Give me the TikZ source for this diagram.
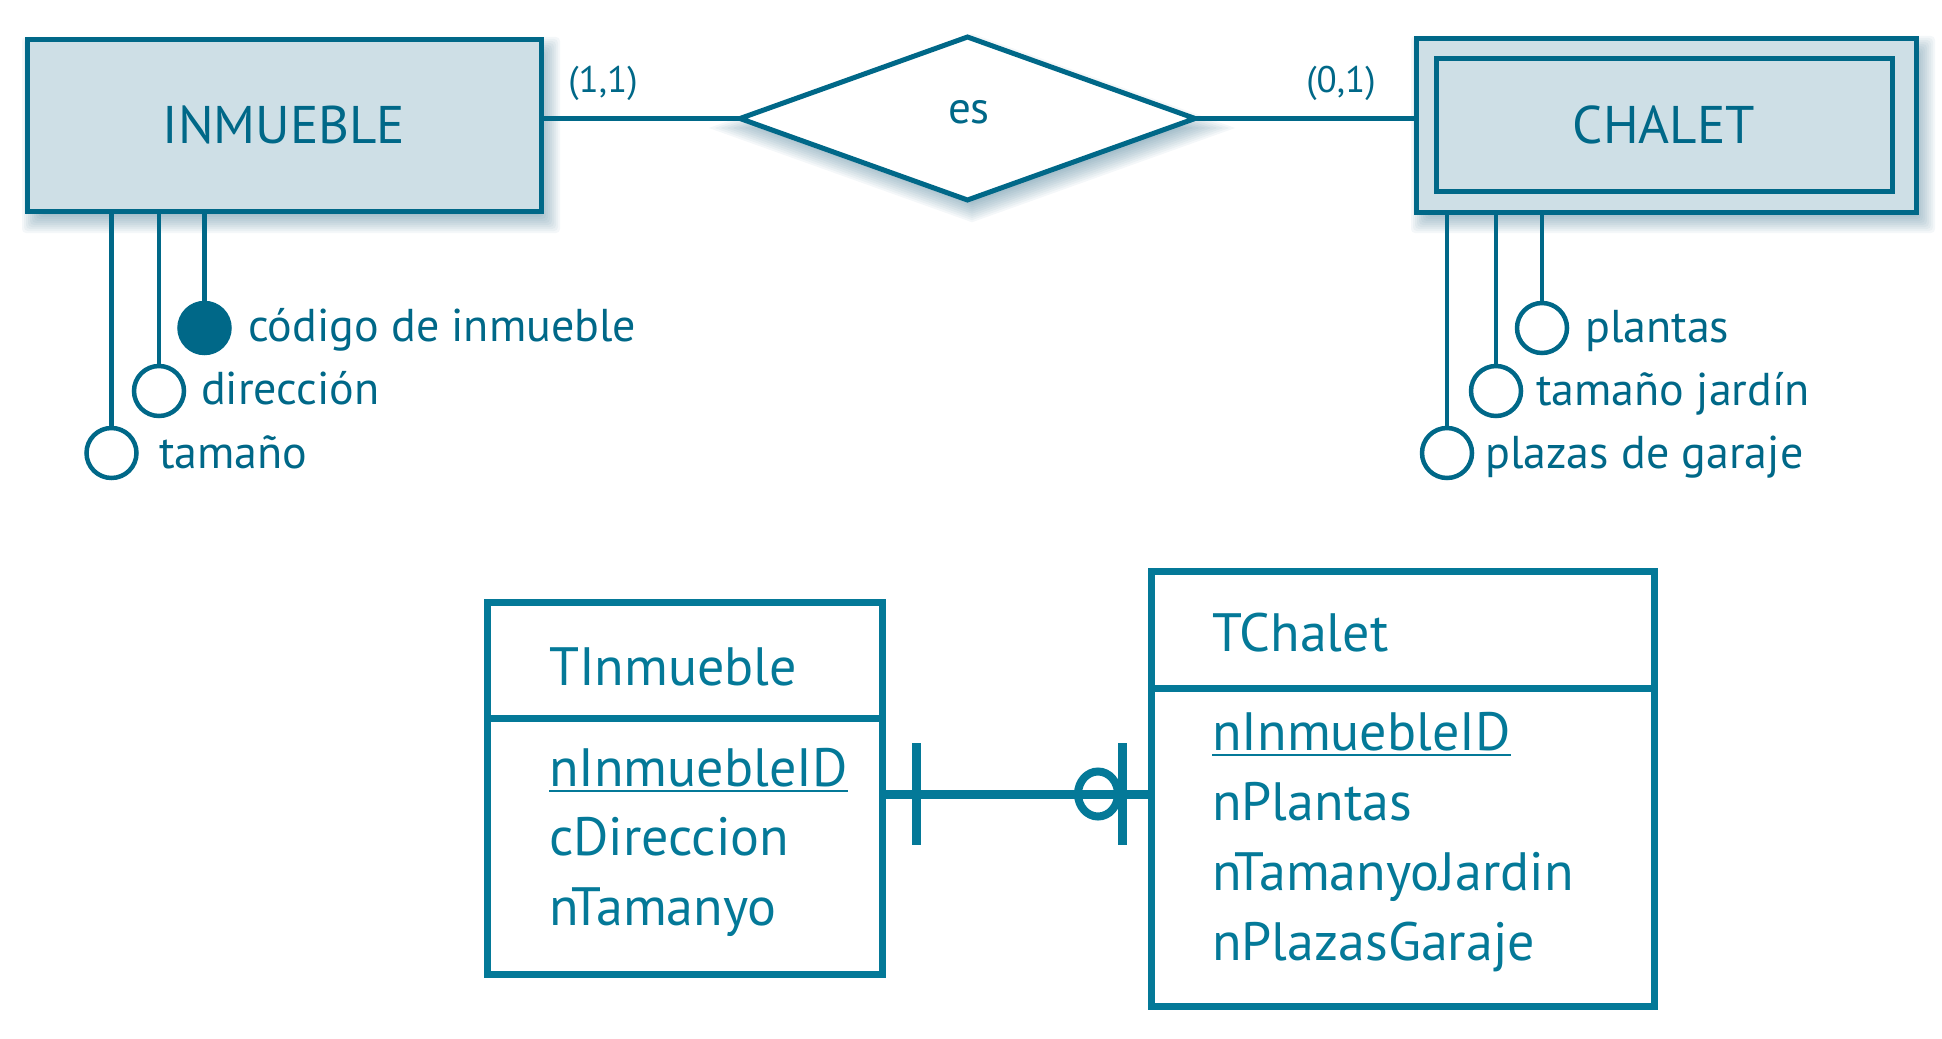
\documentclass[tikz,border=0pt]{standalone}
\usepackage{fontspec}
\setmainfont{PT Sans}
\usetikzlibrary{shapes.geometric,calc}
\definecolor{ink}{RGB}{0,104,136}
\definecolor{inkb}{RGB}{4,121,152}
\definecolor{efill}{RGB}{206,223,230}
\definecolor{shcol}{RGB}{40,100,130}
\newcommand{\shrect}[4]{%
  \foreach \k in {0,...,11}{%
    \pgfmathsetmacro{\shd}{12-2*\k}%
    \fill[shcol, fill opacity=0.05, rounded corners=4pt] ({#1-\shd},{#2-\shd}) rectangle ({#3+\shd},{#4+\shd});
  }}
\newcommand{\shdiam}[4]{%
  \foreach \k in {0,...,11}{%
    \pgfmathsetmacro{\shs}{1+(12-2*\k)*0.01305}%
    \fill[shcol, fill opacity=0.05] ({#1-#3*\shs},#2) -- (#1,{#2-#4*\shs}) -- ({#1+#3*\shs},#2) -- (#1,{#2+#4*\shs}) -- cycle;
  }}
\begin{document}
\begin{tikzpicture}[x=1pt,y=-1pt,
  entity/.style={draw=ink, fill=efill, line width=5pt, rectangle, inner sep=0pt, outer sep=0pt},
  innerbox/.style={draw=ink, line width=5pt, rectangle, inner sep=0pt, outer sep=0pt},
  relbox/.style={draw=ink, fill=white, line width=5pt, diamond, inner sep=0pt, outer sep=0pt},
  rline/.style={draw=ink, line width=4.5pt},
  etext/.style={text=ink, font=\fontsize{53}{62}\selectfont, inner sep=0pt},
  reltext/.style={text=ink, font=\fontsize{45}{52}\selectfont, inner sep=0pt},
  card/.style={text=ink, font=\fontsize{37}{44}\selectfont, inner sep=0pt, anchor=base},
  attr/.style={circle, draw=ink, fill=white, line width=4.5pt, minimum size=50pt, inner sep=0pt, outer sep=0pt},
  keyattr/.style={attr, fill=ink},
  attrtext/.style={text=ink, font=\fontsize{46}{54}\selectfont, inner sep=0pt, anchor=base west},
  tbl/.style={draw=inkb, line width=7pt, rectangle, inner sep=0pt, outer sep=0pt},
  tblline/.style={draw=inkb, line width=7pt},
  tbltext/.style={text=inkb, font=\fontsize{54}{62}\selectfont, inner sep=0pt, anchor=base west},
  conn/.style={draw=inkb, line width=9pt},
  uline/.style={draw=inkb, line width=2.5pt}
]
\useasboundingbox (0,0) rectangle (1942,1038);

% shadows
\shrect{34}{49}{548}{221}
\shrect{1423}{48}{1923}{221}
\shdiam{972}{128}{227.5}{81.5}

% entities and relationship
\node[entity, minimum width=514pt, minimum height=172pt] (inm) at (284,125.5) {};
\node[etext, anchor=base] (inmT) at (284,143) {INMUEBLE};
\node[entity, minimum width=500pt, minimum height=173pt] (cha) at (1666,125.5) {};
\node[innerbox, minimum width=456pt, minimum height=132pt] (chaI) at (1664.25,125) {};
\node[etext, anchor=base] (chaT) at (1664,143) {CHALET};
\node[relbox, minimum width=455pt, minimum height=163pt] (es) at (967.5,118.5) {};
\node[reltext, anchor=base] (esT) at (969,124) {es};

\draw[rline] (inm.east |- es.west) -- (es.west);
\draw[rline] (es.east) -- (es.east -| cha.west);
\node[card] (c11) at (603,93) {(1,1)};
\node[card] (c01) at (1341,93) {(0,1)};

% INMUEBLE attributes
\node[keyattr] (a1) at (204.5,328) {};
\node[attr] (a2) at (159,391) {};
\node[attr] (a3) at (111.5,453) {};
\draw[rline] (a1.north) -- (a1.north |- inm.south);
\draw[rline] (a2.north) -- (a2.north |- inm.south);
\draw[rline] (a3.north) -- (a3.north |- inm.south);
\node[attrtext] (a1T) at (248,341) {código de inmueble};
\node[attrtext] (a2T) at (201,404) {dirección};
\node[attrtext] (a3T) at (159,468) {tamaño};

% CHALET attributes
\node[attr] (b1) at (1542,328) {};
\node[attr] (b2) at (1496,391) {};
\node[attr] (b3) at (1447,453) {};
\draw[rline] (b1.north) -- (b1.north |- cha.south);
\draw[rline] (b2.north) -- (b2.north |- cha.south);
\draw[rline] (b3.north) -- (b3.north |- cha.south);
\node[attrtext] (b1T) at (1585,342) {plantas};
\node[attrtext] (b2T) at (1536,405) {tamaño jardín};
\node[attrtext] (b3T) at (1485,468) {plazas de garaje};

% tables
\node[tbl, minimum width=395pt, minimum height=372pt] (ti) at (684.5,788) {};
\coordinate (tiDiv) at (684.5,718);
\draw[tblline] (tiDiv -| ti.west) -- (tiDiv -| ti.east);
\node[tbltext] (tiT) at (549,685) {TInmueble};
\node[tbltext] (ti1) at (549,786) {nInmuebleID};
\draw[uline] ([yshift=-5pt]ti1.base west) -- ([yshift=-5pt]ti1.base east);
\node[tbltext] (ti2) at (549,855) {cDireccion};
\node[tbltext] (ti3) at (549,925) {nTamanyo};

\node[tbl, minimum width=503pt, minimum height=435pt] (tc) at (1402.5,788.5) {};
\coordinate (tcDiv) at (1402.5,688);
\draw[tblline] (tcDiv -| tc.west) -- (tcDiv -| tc.east);
\node[tbltext] (tcT) at (1212,651) {TChalet};
\node[tbltext] (tc1) at (1212,750) {nInmuebleID};
\draw[uline] ([yshift=-5pt]tc1.base west) -- ([yshift=-5pt]tc1.base east);
\node[tbltext] (tc2) at (1212,820) {nPlantas};
\node[tbltext] (tc3) at (1212,890) {nTamanyoJardin};
\node[tbltext] (tc4) at (1212,960) {nPlazasGaraje};

% connector
\coordinate (ly) at (1000,794);
\draw[conn] (ly -| ti.east) -- (ly -| tc.west);
\coordinate (bar1) at (916,794);
\coordinate (bar2) at (1122,794);
\draw[conn] (bar1) ++(0,-51) -- ++(0,102);
\draw[conn] (bar2) ++(0,-51) -- ++(0,102);
\node[ellipse, draw=inkb, line width=8pt, minimum width=40pt, minimum height=45pt, inner sep=0pt] (oc) at (1098,794) {};
\end{tikzpicture}
\end{document}
